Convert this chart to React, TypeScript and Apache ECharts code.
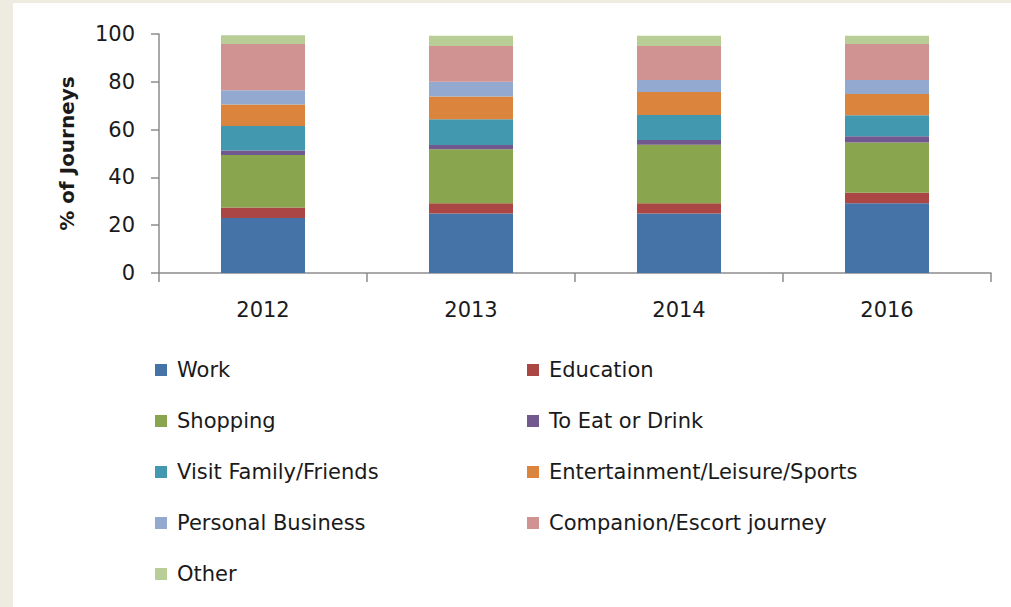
import React, { useEffect, useRef } from "react";
import * as echarts from "echarts";

const years = ["2012", "2013", "2014", "2016"];
const work = [23.0, 24.9, 24.9, 29.2];
const education = [4.4, 4.3, 4.3, 4.4];
const shopping = [22.0, 22.6, 24.5, 21.0];
const eatDrink = [1.9, 1.8, 1.9, 2.6];
const visitFamily = [10.2, 10.7, 10.5, 8.8];
const entertainment = [9.0, 9.6, 9.6, 8.9];
const personalBusiness = [6.0, 6.1, 5.1, 5.9];
const companion = [19.3, 15.0, 14.2, 15.0];
const other = [3.7, 4.3, 4.3, 3.5];
const yTicks = [0, 20, 40, 60, 80, 100];

const seriesDefs = [
  { name: "Work", data: work, color: "#4572A7" },
  { name: "Education", data: education, color: "#AA4643" },
  { name: "Shopping", data: shopping, color: "#89A54E" },
  { name: "To Eat or Drink", data: eatDrink, color: "#71588F" },
  { name: "Visit Family/Friends", data: visitFamily, color: "#4198AF" },
  { name: "Entertainment/Leisure/Sports", data: entertainment, color: "#DB843D" },
  { name: "Personal Business", data: personalBusiness, color: "#93A9CF" },
  { name: "Companion/Escort journey", data: companion, color: "#D19392" },
  { name: "Other", data: other, color: "#B9CD96" },
];

const leftCol = ["Work", "Shopping", "Visit Family/Friends", "Personal Business", "Other"];
const rightCol = ["Education", "To Eat or Drink", "Entertainment/Leisure/Sports", "Companion/Escort journey"];

const FONT = "'DejaVu Sans', Verdana, sans-serif";

export default function App() {
  const ref = useRef<HTMLDivElement>(null);
  useEffect(() => {
    document.body.style.margin = "0";
    const chart = echarts.init(ref.current!, null, { renderer: "svg" });
    const legendBase = {
      orient: "vertical" as const,
      top: 354,
      itemWidth: 12,
      itemHeight: 12,
      itemGap: 29,
      icon: "rect",
      selectedMode: false,
      textStyle: {
        fontFamily: FONT,
        fontSize: 21,
        color: "#1a1a1a",
        lineHeight: 22,
        padding: [0, 0, 0, 5],
      },
    };
    chart.setOption({
      animation: false,
      grid: { left: 159, right: 20, top: 34, bottom: 334, containLabel: false },
      legend: [
        { ...legendBase, left: 150, data: leftCol },
        { ...legendBase, left: 522, data: rightCol },
      ],
      xAxis: {
        type: "category",
        data: years,
        axisLine: { lineStyle: { color: "#8c8c8c", width: 1.5 } },
        axisTick: { show: true, length: 9, lineStyle: { color: "#8c8c8c", width: 1.5 } },
        axisLabel: { fontFamily: FONT, fontSize: 21, color: "#1a1a1a", margin: 26 },
      },
      yAxis: {
        type: "value",
        min: yTicks[0],
        max: yTicks[yTicks.length - 1],
        interval: 20,
        name: "% of Journeys",
        nameLocation: "middle",
        nameGap: 82,
        nameTextStyle: { fontFamily: FONT, fontSize: 20, fontWeight: "bold", color: "#1a1a1a" },
        axisLine: { show: true, lineStyle: { color: "#8c8c8c", width: 1.5 } },
        axisTick: { show: true, length: 8, lineStyle: { color: "#8c8c8c", width: 1.5 } },
        splitLine: { show: false },
        axisLabel: { fontFamily: FONT, fontSize: 21, color: "#1a1a1a", margin: 24 },
      },
      series: seriesDefs.map((s) => ({
        type: "bar",
        name: s.name,
        stack: "total",
        data: s.data,
        barWidth: 84,
        itemStyle: { color: s.color },
        emphasis: { disabled: true },
      })),
    });
    return () => chart.dispose();
  }, []);
  return (
    <div style={{ position: "relative", width: 1011, height: 607, background: "#EEECE1" }}>
      <div style={{ position: "absolute", left: 13, top: 3, width: 998, height: 604, background: "#ffffff" }} />
      <div ref={ref} style={{ position: "absolute", left: 0, top: 0, width: 1011, height: 607 }} />
    </div>
  );
}
